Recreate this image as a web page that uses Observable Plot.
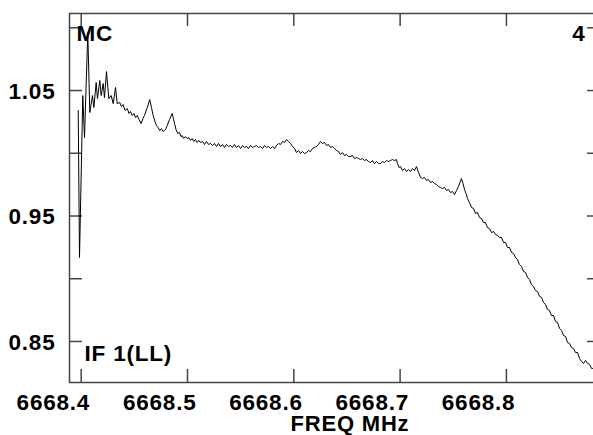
<!DOCTYPE html>
<html><head><meta charset="utf-8">
<script src="https://cdn.jsdelivr.net/npm/d3@7"></script>
<script src="https://cdn.jsdelivr.net/npm/@observablehq/plot@0.6"></script>
<style>
html,body{margin:0;padding:0;background:#fff;overflow:hidden}
#chart{width:593px;height:435px;overflow:hidden}
#chart svg{max-width:none !important;display:block}
</style></head><body><div id="chart"></div>
<script>
// Spectrum: [frequency MHz, amplitude]
const spikes = [
[6668.3972,1.0341],[6668.3984,0.9169],[6668.4015,1.0460],[6668.4031,1.0125],[6668.4062,1.0962],
[6668.4081,1.0325],[6668.4106,1.0460],[6668.4119,1.0365],[6668.4141,1.0564],[6668.4153,1.0436],
[6668.4175,1.0580],[6668.4188,1.0460],[6668.4207,1.0556],[6668.4219,1.0444],[6668.4238,1.0651],
[6668.4260,1.0436],[6668.4282,1.0460],[6668.4301,1.0396],[6668.4323,1.0524],[6668.4339,1.0396],
[6668.4363,1.0404],[6668.4379,1.0373],[6668.4395,1.0388],[6668.4412,1.0341],[6668.4433,1.0357],
[6668.4450,1.0317],[6668.4464,1.0333],[6668.4480,1.0301],[6668.4497,1.0317],[6668.4511,1.0285],
[6668.4527,1.0301],[6668.4544,1.0269],[6668.4564,1.0237],[6668.4581,1.0277],[6668.4595,1.0301],
[6668.4619,1.0357],[6668.4645,1.0428],[6668.4661,1.0365],[6668.4677,1.0301],[6668.4694,1.0253],
[6668.4708,1.0221],[6668.4724,1.0205],[6668.4739,1.0181],[6668.4755,1.0197],[6668.4770,1.0173],
[6668.4784,1.0181],[6668.4798,1.0197],[6668.4809,1.0221],[6668.4831,1.0269],[6668.4856,1.0317],
[6668.4868,1.0277],[6668.4878,1.0237],[6668.4892,1.0189],[6668.4909,1.0157],[6668.4925,1.0165],
[6668.4939,1.0133],[6668.4950,1.0141],[6668.4965,1.0118],[6668.4981,1.0133],[6668.4997,1.0118],
[6668.5012,1.0125],[6668.5028,1.0102],[6668.5044,1.0118],[6668.5059,1.0094],[6668.5075,1.0110],
[6668.5091,1.0086],[6668.5106,1.0102]
];
const plateau = [
[6668.5122,1.0086],[6668.5141,1.0094],[6668.5160,1.0070],[6668.5179,1.0094],[6668.5198,1.0070],
[6668.5216,1.0078],[6668.5235,1.0062],[6668.5254,1.0078],[6668.5273,1.0054],[6668.5292,1.0078],
[6668.5311,1.0054],[6668.5329,1.0070],[6668.5348,1.0046],[6668.5367,1.0070],[6668.5386,1.0054],
[6668.5405,1.0062],[6668.5423,1.0046],[6668.5442,1.0070],[6668.5461,1.0046],[6668.5480,1.0062],
[6668.5499,1.0038],[6668.5518,1.0062],[6668.5536,1.0046],[6668.5555,1.0054],[6668.5574,1.0038],
[6668.5593,1.0062],[6668.5612,1.0046],[6668.5630,1.0054],[6668.5649,1.0062],[6668.5668,1.0046],
[6668.5687,1.0054],[6668.5706,1.0038],[6668.5724,1.0062],[6668.5743,1.0046],[6668.5762,1.0054],
[6668.5781,1.0038],[6668.5800,1.0054],[6668.5819,1.0038],[6668.5837,1.0062],[6668.5856,1.0078],
[6668.5875,1.0070],[6668.5894,1.0094],[6668.5913,1.0086],[6668.5931,1.0110],[6668.5950,1.0094],
[6668.5969,1.0078],[6668.5988,1.0054],[6668.6007,1.0038],[6668.6025,1.0006],[6668.6044,1.0022],
[6668.6063,0.9998],[6668.6082,1.0014],[6668.6101,0.9998],[6668.6120,1.0006],[6668.6138,1.0022],
[6668.6157,1.0014],[6668.6176,1.0038],[6668.6195,1.0046],[6668.6214,1.0054],[6668.6232,1.0070],
[6668.6251,1.0094],[6668.6270,1.0078],[6668.6289,1.0086],[6668.6308,1.0062],[6668.6326,1.0070],
[6668.6345,1.0046],[6668.6364,1.0054],[6668.6383,1.0038],[6668.6402,1.0022],[6668.6421,1.0014],
[6668.6439,0.9990],[6668.6458,1.0006],[6668.6477,0.9982],[6668.6496,0.9990],[6668.6515,0.9974],
[6668.6533,0.9974],[6668.6552,0.9982],[6668.6571,0.9958],[6668.6590,0.9966],[6668.6609,0.9958],
[6668.6627,0.9950],[6668.6646,0.9958],[6668.6665,0.9942],[6668.6684,0.9950],[6668.6703,0.9934],
[6668.6722,0.9926],[6668.6740,0.9942],[6668.6759,0.9918],[6668.6778,0.9934],[6668.6797,0.9918],
[6668.6816,0.9918],[6668.6834,0.9934],[6668.6853,0.9926],[6668.6872,0.9942],[6668.6891,0.9934],
[6668.6910,0.9942],[6668.6928,0.9950],[6668.6947,0.9942],[6668.6966,0.9950]
];
const bumps = [
[6668.6975,0.9918],[6668.6990,0.9886],[6668.7004,0.9894],[6668.7023,0.9862],[6668.7041,0.9878],
[6668.7060,0.9855],[6668.7079,0.9870],[6668.7098,0.9855],[6668.7117,0.9878],[6668.7135,0.9862],
[6668.7154,0.9894],[6668.7173,0.9847],[6668.7192,0.9807],[6668.7211,0.9799],[6668.7229,0.9807],
[6668.7248,0.9783],[6668.7267,0.9791],[6668.7286,0.9767],[6668.7305,0.9775],[6668.7324,0.9759],
[6668.7342,0.9751],[6668.7361,0.9735],[6668.7380,0.9727],[6668.7399,0.9719],[6668.7418,0.9727],
[6668.7436,0.9703],[6668.7455,0.9711],[6668.7474,0.9687],[6668.7493,0.9695],[6668.7512,0.9671],
[6668.7530,0.9703],[6668.7549,0.9735],[6668.7563,0.9767],[6668.7577,0.9799],[6668.7592,0.9759],
[6668.7606,0.9711],[6668.7620,0.9679]
];
const slope = [
[6668.7634,0.9639],[6668.7653,0.9607],[6668.7672,0.9568],[6668.7691,0.9560],[6668.7709,0.9520],
[6668.7728,0.9528],[6668.7747,0.9488],[6668.7766,0.9480],[6668.7785,0.9448],[6668.7803,0.9448],
[6668.7822,0.9408],[6668.7841,0.9400],[6668.7860,0.9368],[6668.7879,0.9376],[6668.7898,0.9352],
[6668.7916,0.9345],[6668.7935,0.9329],[6668.7954,0.9329],[6668.7973,0.9289],[6668.7992,0.9289],
[6668.8010,0.9249],[6668.8029,0.9249],[6668.8048,0.9209],[6668.8067,0.9201],[6668.8086,0.9169],
[6668.8104,0.9153],[6668.8123,0.9113],[6668.8142,0.9098],[6668.8161,0.9058],[6668.8180,0.9050],
[6668.8199,0.9010],[6668.8217,0.8994],[6668.8236,0.8954],[6668.8255,0.8938],[6668.8274,0.8906],
[6668.8293,0.8898],[6668.8311,0.8859],[6668.8330,0.8851],[6668.8349,0.8811],[6668.8368,0.8795],
[6668.8387,0.8755],[6668.8405,0.8747],[6668.8424,0.8707],[6668.8443,0.8707],[6668.8462,0.8659],
[6668.8481,0.8651],[6668.8500,0.8604],[6668.8518,0.8588],[6668.8537,0.8548],[6668.8556,0.8540],
[6668.8575,0.8492],[6668.8594,0.8484],[6668.8612,0.8452],[6668.8631,0.8444],[6668.8650,0.8412],
[6668.8669,0.8412],[6668.8688,0.8364],[6668.8707,0.8341],[6668.8725,0.8325],[6668.8744,0.8349],
[6668.8763,0.8325],[6668.8782,0.8317],[6668.8801,0.8285],[6668.8810,0.8285]
];
const xTicks = [6668.4, 6668.5, 6668.6, 6668.7, 6668.8];
const yTicks = [0.85, 0.90, 0.95, 1.00, 1.05, 1.10];
const yLabels = [0.85, 0.95, 1.05];
const xDomain = [6668.389, 6668.8885];
const yDomain = [0.8173, 1.1114];

const data = [...spikes, ...plateau, ...bumps, ...slope].map(([f, a]) => ({f, a}));

const W = 600, H = 435, mL = 69, mR = 0, mT = 13, mB = 53;
const innerW = W - mL - mR, innerH = H - mT - mB;
const tk = 13;
const font = "'Liberation Sans', Arial, Helvetica, sans-serif";
const fs = 22.5;
const axisStroke = "#444";

const chart = Plot.plot({
  width: W, height: H,
  marginLeft: mL, marginRight: mR, marginTop: mT, marginBottom: mB,
  style: {fontFamily: font, background: "white", color: "black", maxWidth: "none", letterSpacing: "0.8px"},
  x: {domain: xDomain},
  y: {domain: yDomain},
  marks: [
    Plot.tickX(xTicks, {x: d => d, insetTop: innerH - tk, stroke: axisStroke, strokeWidth: 1.5}),
    Plot.tickX(xTicks, {x: d => d, insetBottom: innerH - tk, stroke: axisStroke, strokeWidth: 1.5}),
    Plot.tickY(yTicks, {y: d => d, insetRight: innerW - tk, stroke: axisStroke, strokeWidth: 1.5}),
    Plot.tickY(yTicks, {y: d => d, insetLeft: innerW - tk, stroke: axisStroke, strokeWidth: 1.5}),
    Plot.axisX(xTicks, {tickSize: 0, tickPadding: 12, tickFormat: d => d.toFixed(1),
      fontSize: fs, fontWeight: "bold", textAnchor: "end", dx: 9, fill: "black", label: null}),
    Plot.axisY(yLabels, {tickSize: 0, tickPadding: 14, tickFormat: d => d.toFixed(2), dy: 1,
      fontSize: fs, fontWeight: "bold", fill: "black", label: null}),
    Plot.line(data, {x: "f", y: "a", stroke: "black", strokeWidth: 1}),
    Plot.frame({stroke: axisStroke, strokeWidth: 1.5}),
    Plot.text(["MC"], {frameAnchor: "top-left", text: d => d, textAnchor: "start", lineAnchor: "top",
      dx: 7, dy: 12, fontSize: fs, fontWeight: "bold", fill: "black"}),
    Plot.text(["4"], {frameAnchor: "top-right", text: d => d, textAnchor: "end", lineAnchor: "top",
      dx: -15, dy: 12, fontSize: fs, fontWeight: "bold", fill: "black"}),
    Plot.text(["IF 1(LL)"], {frameAnchor: "bottom-left", text: d => d, textAnchor: "start", lineAnchor: "top",
      dx: 15, dy: -37, fontSize: fs, fontWeight: "bold", fill: "black"}),
    Plot.text(["FREQ MHz"], {frameAnchor: "bottom", text: d => d, textAnchor: "middle", lineAnchor: "top",
      dx: 15, dy: 33, fontSize: 22, fontWeight: "bold", fill: "black"})
  ]
});
chart.style.maxWidth = "none";
document.getElementById("chart").appendChild(chart);
</script></body></html>
